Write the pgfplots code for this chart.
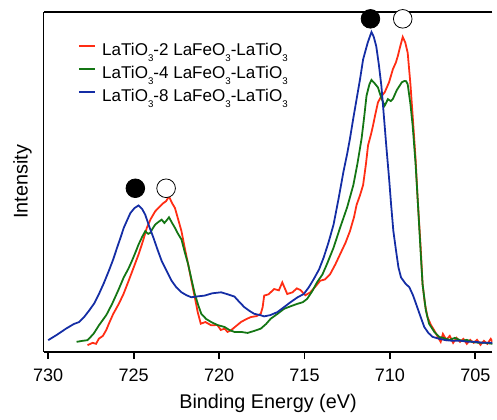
\documentclass[border=0pt]{standalone}
\usepackage{pgfplots}
\pgfplotsset{compat=1.18}
\usepackage{fontspec}
\setmainfont{Liberation Sans}
\definecolor{cred}{RGB}{255,45,20}
\definecolor{cgreen}{RGB}{20,118,20}
\definecolor{cblue}{RGB}{20,45,165}
\newcommand{\sub}[1]{\raisebox{-3pt}{\fontsize{4.9}{5}\selectfont #1}}
\begin{document}
\begin{tikzpicture}
\begin{axis}[
  scale only axis, width=226.5pt, height=171.5pt,
  x dir=reverse, xmin=704.0, xmax=730.27, ymin=0, ymax=343,
  axis x line*=box, axis y line*=left,
  xtick={705,710,...,730}, xtick pos=bottom, ytick=\empty,
  tick align=outside, major tick length=3.5pt,
  axis line style={line width=0.9pt}, every tick/.style={line width=0.9pt, black},
  /pgf/number format/assume math mode=true,
  tick label style={font=\fontsize{9.1}{11}\selectfont},
  xticklabel style={yshift=-1.5pt},
  label style={font=\fontsize{9.2}{11}\selectfont},
  xlabel={Binding Energy (eV)},
  every axis x label/.style={at={(axis description cs:0.5,0)}, anchor=base, yshift=-28.8pt},
  ylabel={Intensity},
  every axis y label/.style={at={(axis description cs:-0.047,0.5)}, anchor=center, rotate=90},
  legend style={at={(axis description cs:0,1)}, anchor=north west, xshift=17.2pt, yshift=-15.3pt,
    draw=none, fill=none, inner sep=0pt, row sep=2.57pt, column sep=3.3pt,
    font=\fontsize{8.6}{10}\selectfont,
    nodes={inner sep=0pt, text height=6.6pt, text depth=2.5pt}},
  legend cell align=left,
  legend image code/.code={\draw[#1, line width=0.9pt] (0pt,2.9pt) -- (8pt,2.9pt);},
  legend columns=1,
]
\addplot[cred, line width=0.9pt] coordinates {
(727.7,6.7)(727.4,9)(727.2,8)(727.03,13.3)(726.8,16)(726.6,22)(726.45,28.3)(726.2,38)(725.87,48.3)(725.6,58)(725.29,71.7)(725.0,85)(724.71,98.3)(724.45,112)(724.23,125)(724.0,134)(723.74,141.7)(723.5,146)(723.26,150)(723.1,152)(722.93,156.7)(722.75,150)(722.58,145)(722.4,134)(722.2,121.7)(722.0,104)(721.81,88.3)(721.6,70)(721.42,55)(721.25,40)(721.07,28.3)(720.8,30)(720.46,26.7)(720.1,27)(719.9,22)(719.68,23.3)(719.5,20)(719.3,21.7)(719.0,26)(718.72,30)(718.4,33)(718.14,35)(717.8,36)(717.56,38.3)(717.45,45)(717.36,56.7)(717.1,58)(716.78,63.3)(716.5,62)(716.3,70)(716.01,58.3)(715.7,60)(715.45,64)(715.24,62.3)(714.95,57)(714.66,60)(714.35,66)(714.08,71.7)(713.8,73)(713.5,78.3)(713.2,88)(712.92,98.3)(712.6,110)(712.34,121.7)(712.1,136)(711.95,148.3)(711.75,158)(711.57,168.3)(711.4,190)(711.28,208.3)(711.1,220)(710.99,228.3)(710.85,240)(710.7,251.7)(710.5,258)(710.31,261.7)(710.05,272)(709.83,285)(709.65,292)(709.54,298.3)(709.4,308)(709.25,317.7)(709.1,312)(708.96,301.7)(708.8,270)(708.67,238.3)(708.5,195)(708.38,155)(708.2,105)(708.09,68.3)(707.95,48)(707.8,35)(707.6,27)(707.41,21.7)(707.2,15)(707.03,10)(706.9,18)(706.7,12)(706.5,16)(706.3,9)(706.1,14)(705.9,10)(705.7,13)(705.5,8)(705.3,12)(705.1,9)(704.9,12)(704.7,7)(704.5,11)(704.3,8)(704.1,13)(704.0,10)};
\addlegendentry{LaTiO\sub{3}-2 LaFeO\sub{3}-LaTiO\sub{3}}
\addplot[cgreen, line width=0.9pt] coordinates {
(728.34,10)(728.0,11)(727.7,11.7)(727.35,18)(727.03,26.7)(726.6,37)(726.26,48.3)(725.9,62)(725.58,75)(725.3,84)(725.1,91.7)(724.9,100)(724.71,108.3)(724.5,116)(724.32,121.7)(724.15,119)(724.03,120)(723.9,124)(723.74,128.3)(723.55,131)(723.36,133.3)(723.2,130)(723.05,133)(722.93,135.7)(722.75,130)(722.58,125)(722.4,119)(722.2,113.3)(722.0,100)(721.81,88.3)(721.6,72)(721.42,58.3)(721.2,46)(721.04,38.3)(720.75,33)(720.46,30)(720.1,27)(719.68,25)(719.4,22)(719.1,20)(718.7,20)(718.33,19)(717.95,21)(717.56,23.3)(717.25,28)(716.98,33.3)(716.6,38)(716.2,43.3)(715.8,46)(715.43,48.3)(715.1,50)(714.85,53.3)(714.55,61)(714.27,70)(713.95,78)(713.69,88.3)(713.3,105)(712.92,125)(712.5,146)(712.14,168.3)(711.9,190)(711.66,215)(711.5,238)(711.37,258.3)(711.2,270)(711.08,274.3)(710.9,271)(710.7,266.7)(710.5,256)(710.31,248.3)(710.2,252)(710.12,255)(709.95,253)(709.83,255)(709.6,264)(709.44,268.3)(709.3,272)(709.15,273.3)(709.05,273)(708.96,270)(708.8,250)(708.67,228.3)(708.5,190)(708.38,155)(708.2,100)(708.09,68.3)(707.9,42)(707.71,28.3)(707.4,20)(707.12,15)(706.9,14)(706.5,12)(706.2,14)(705.8,11)(705.5,12)(705.2,10)(704.8,9)(704.4,9)(704.0,8)};
\addlegendentry{LaTiO\sub{3}-4 LaFeO\sub{3}-LaTiO\sub{3}}
\addplot[cblue, line width=0.9pt] coordinates {
(730.0,11.7)(729.5,17)(728.96,23.3)(728.5,28)(728.19,30)(727.9,35)(727.6,41.7)(727.3,49)(727.03,58.3)(726.75,69)(726.45,81.7)(726.2,93)(725.97,105)(725.75,116)(725.58,125)(725.4,132)(725.19,140)(724.95,145)(724.71,147.7)(724.5,144)(724.32,138.3)(724.1,127)(723.84,115)(723.6,103)(723.36,91.7)(723.05,81)(722.78,71.7)(722.5,65)(722.2,60)(721.9,57)(721.62,55)(721.2,56)(720.84,56.7)(720.4,59)(719.88,60)(719.5,58)(719.1,55.7)(718.8,50)(718.52,45)(718.2,41)(717.94,38.3)(717.6,37)(717.36,35.7)(717.0,37)(716.59,40)(716.2,45)(715.82,50)(715.4,55)(715.04,58.3)(714.75,65)(714.46,73.3)(714.15,83)(713.88,95)(713.6,110)(713.3,128.3)(713.0,155)(712.72,181.7)(712.5,200)(712.34,215)(712.15,235)(711.95,255)(711.75,275)(711.57,295)(711.3,312)(711.08,322.7)(710.95,318)(710.8,308.3)(710.65,290)(710.5,268.3)(710.35,237)(710.2,205)(710.05,175)(709.93,148.3)(709.8,122)(709.64,101.7)(709.5,85)(709.35,75)(709.1,69)(708.86,65)(708.65,57)(708.47,48.3)(708.2,35)(707.99,25)(707.75,19)(707.5,15)(707.1,13)(706.74,11.7)(706.3,11)(705.8,11)(705.4,10)(705.0,10)(704.5,9)(704.0,9)};
\addlegendentry{LaTiO\sub{3}-8 LaFeO\sub{3}-LaTiO\sub{3}}
\addplot[only marks, mark=*, mark size=4.7pt, black, forget plot] coordinates {(724.9,165)(711.14,336)};
\addplot[only marks, mark=*, mark size=4.7pt, draw=black, fill=white, line width=0.4pt, forget plot] coordinates {(723.1,165)(709.25,336)};
\end{axis}
\path[use as bounding box] (-22pt,-30.5pt) rectangle (226.5pt,177.5pt);
\end{tikzpicture}
\end{document}
